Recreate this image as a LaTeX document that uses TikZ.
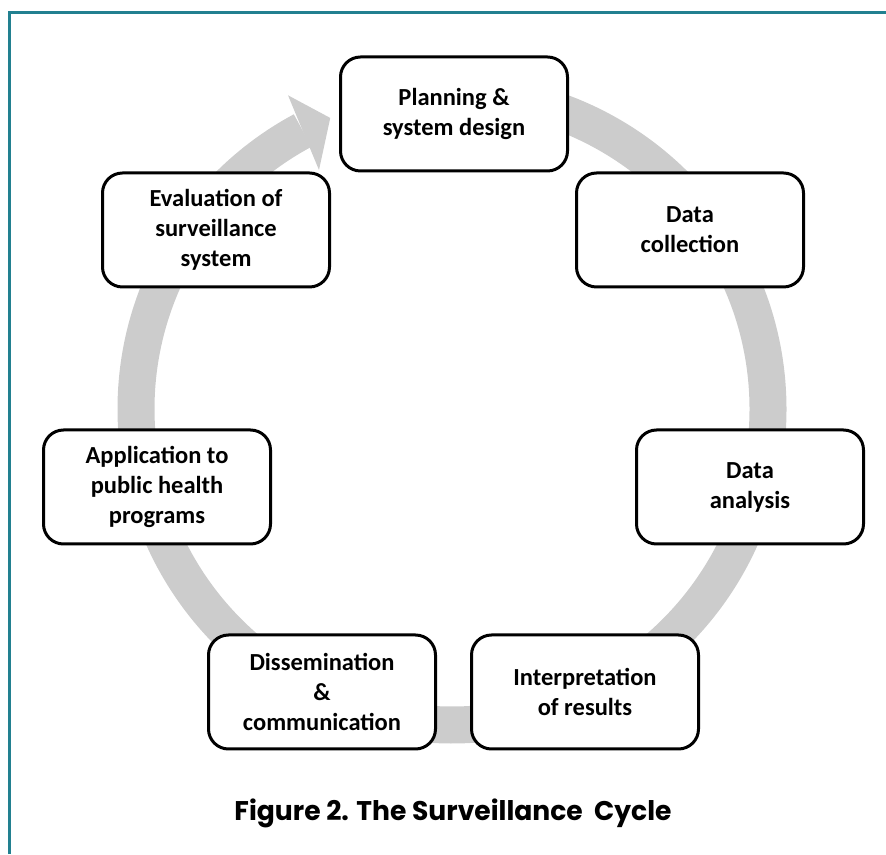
\documentclass[tikz,border=0pt]{standalone}
\usepackage{fontspec}
\setmainfont{Carlito}
\newfontfamily\capfont{Poppins}
\usepackage{graphicx}
\definecolor{frameteal}{RGB}{34,128,144}
\definecolor{ringgray}{RGB}{204,204,204}
\tikzset{
	stage/.style={draw, fill=white, line width=3pt, rounded corners=20pt,
		minimum width=227pt, minimum height=114pt, inner sep=0pt, align=center,
		font=\bfseries\fontsize{24.5}{30}\selectfont},
	ring/.style={ringgray, line width=37pt}
}

\begin{document}
\begin{tikzpicture}[x=1pt, y=1pt]
	\useasboundingbox (0,0) rectangle (886,854);
	\draw[frameteal, line width=3pt](9.5, 0)--(9.5, 841.5)--(886, 841.5);
	\draw[ring](452, 445) ++(92:316) arc[start angle=92, end angle=-241.8, radius=316];
	\fill[ringgray, shift={(452, 445)}](117.6:354)--(112.7:315.5)--(119.1:273.5)--cycle;
	\node[stage] (plan) at (454, 740) {Planning \&\\system design};
	\node[stage] (collect) at (690, 624) {Data\\collection};
	\node[stage] (analysis) at (750, 367) {Data\\analysis};
	\node[stage] (interp) at (585, 162) {Interpretation\\of results};
	\node[stage] (dissem) at (322, 162) {Dissemination\\\&\\communication};
	\node[stage] (apply) at (157, 367) {Application to\\public health\\programs};
	\node[stage] (evalu) at (216, 624) {Evaluation of\\surveillance\\system};
	\node[anchor=base, inner sep=0pt, font=\capfont\bfseries\fontsize{27}{30}\selectfont] (caption) at (453, 34)
		{\resizebox{437pt}{\height}{Figure 2. The Surveillance\ \ Cycle}};
\end{tikzpicture}
\end{document}
